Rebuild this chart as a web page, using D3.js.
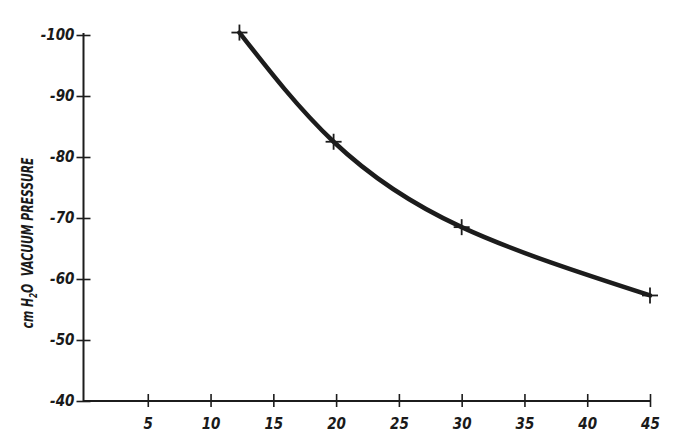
<!DOCTYPE html>
<html><head><meta charset="utf-8">
<script src="https://cdn.jsdelivr.net/npm/d3@7"></script>
<style>
body{margin:0;background:#fff;}
text{font-family:"DejaVu Sans Condensed","Liberation Sans Narrow",sans-serif;font-style:italic;fill:#1a1a1a;}
</style></head>
<body><svg id="c" width="677" height="447"></svg>
<script>
const xTicks = [5,10,15,20,25,30,35,40,45];
const yTicks = [-40,-50,-60,-70,-80,-90,-100];
const time = [12.3, 19.8, 30, 45];
const pressure = [-100.4, -82.5, -68.5, -57.3];

const svg = d3.select("#c");
const x = d3.scaleLinear().domain([0,45]).range([85,650]);
const y = d3.scaleLinear().domain([-40,-100]).range([401,35]);

const ink = "#1c1c1c";

// x axis
const gx = svg.append("g").attr("transform","translate(0,401)")
  .call(d3.axisBottom(x).tickValues(xTicks).tickSize(7).tickFormat(d=>d));
gx.select(".domain").attr("d", `M${83},0H${x(45)}`).attr("stroke",ink).attr("stroke-width",2);
gx.selectAll(".tick line").attr("y1",-7).attr("y2",6).attr("stroke",ink).attr("stroke-width",1.6);
gx.selectAll(".tick text").attr("y",17).attr("dy","0.71em").style("font-size","15px").style("font-weight","600").attr("fill",ink).attr("font-family",null);

// y axis
const gy = svg.append("g").attr("transform","translate(83.5,0)")
  .call(d3.axisLeft(y).tickValues(yTicks).tickSize(7).tickFormat(d=>"-"+Math.abs(d)));
gy.select(".domain").attr("d", `M0,${402}V${33}`).attr("stroke",ink).attr("stroke-width",2);
gy.selectAll(".tick line").attr("x1",-7).attr("x2",7).attr("stroke",ink).attr("stroke-width",1.6);
gy.selectAll(".tick text").attr("x",-9).style("font-size","15px").style("font-weight","600").attr("fill",ink).attr("font-family",null);
svg.selectAll(".tick text").attr("font-size",null);

// curve
const pts = time.map((t,i)=>[t,pressure[i]]);
svg.append("path").datum(pts)
  .attr("d", d3.line().x(d=>x(d[0])).y(d=>y(d[1])).curve(d3.curveNatural))
  .attr("fill","none").attr("stroke",ink).attr("stroke-width",4.5).attr("stroke-linecap","round");

// markers
const m = svg.append("g").selectAll("g").data(pts).join("g")
  .attr("transform",d=>`translate(${x(d[0])},${y(d[1])})`);
m.append("line").attr("x1",-8).attr("x2",8).attr("stroke",ink).attr("stroke-width",1.8);
m.append("line").attr("y1",-8).attr("y2",8).attr("stroke",ink).attr("stroke-width",1.8);

// y label
const lab = svg.append("text").attr("transform","translate(33,243) rotate(-90)")
  .attr("text-anchor","middle").style("font-size","16px").style("font-weight","600").attr("fill",ink)
  .attr("textLength",171).attr("lengthAdjust","spacingAndGlyphs");
lab.append("tspan").text("cm H");
lab.append("tspan").attr("dy",4).style("font-size","11px").text("2");
lab.append("tspan").attr("dy",-4).text("O\u00a0\u00a0VACUUM PRESSURE");
</script></body></html>
